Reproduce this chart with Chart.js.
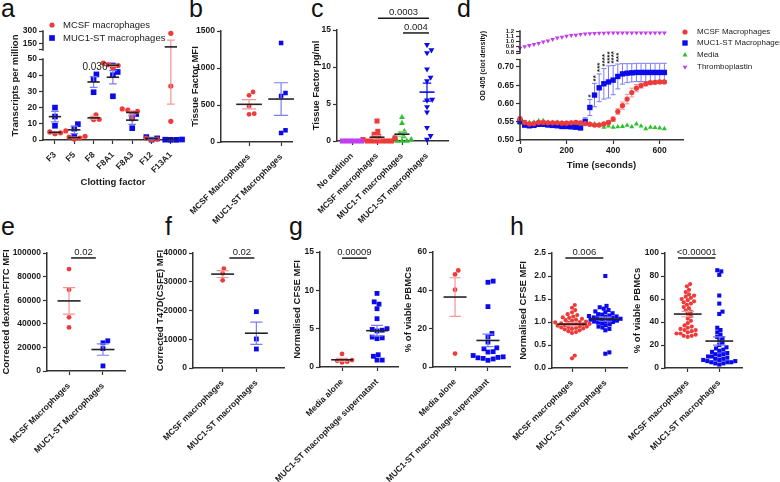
<!DOCTYPE html>
<html>
<head>
<meta charset="utf-8">
<script src="https://cdn.jsdelivr.net/npm/chart.js@4.4.1/dist/chart.umd.min.js"></script>
<style>
  html, body { margin: 0; padding: 0; background: #fff; }
  #wrap { position: relative; width: 780px; height: 482px; overflow: hidden; }
  #wrap canvas { position: absolute; }
  .lt { position: absolute; font: 25px 'Liberation Sans', Arial, sans-serif; line-height: 25px; color: #111; }
</style>
</head>
<body>
<div id="wrap">
  <div class="lt" style="left:1px;top:-4px">a</div>
  <div class="lt" style="left:189px;top:-4px">b</div>
  <div class="lt" style="left:311px;top:-4px">c</div>
  <div class="lt" style="left:457px;top:-4px">d</div>
  <div class="lt" style="left:1px;top:214px">e</div>
  <div class="lt" style="left:165px;top:214px">f</div>
  <div class="lt" style="left:289px;top:214px">g</div>
  <div class="lt" style="left:510px;top:214px">h</div>
</div>
<script>
// a: transcripts per million
const clotFactors = ['F3', 'F5', 'F8', 'F8A1', 'F8A3', 'F12', 'F13A1'];
const tpmMcsf = [[5.6, 5.0, 4.4, 3.9], [2.3, 1.8, 1.2, 0.6], [15.6, 12.8, 12.6], [47.5, 46.5, 46.0, 44.5], [19.2, 18.5, 17.7, 16.5, 13.0], [1.2, 0.5, 0.2], [272, 33.3, 11.5]];
const tpmMuc1 = [[20.0, 14.5, 8.8], [9.8, 7.0, 2.0], [40.5, 37.5, 29.5], [46.0, 42.0, 40.0, 27.0], [16.0, 13.5, 7.3], [1.8, 1.0, 0.2], [0.3, 0.2, 0.1, 0.1]];

// b: tissue factor MFI
const tfGroups = ['MCSF Macrophages', 'MUC1-ST Macrophages'];
const tfMfiMcsf = [676, 631, 482, 383, 374];
const tfMfiMuc1 = [1338, 662, 622, 158, 122];

// c: tissue factor pg/ml
const tfpgGroups = ['No addition', 'MCSF macrophages', 'MUC1-T macrophages', 'MUC1-ST macrophages'];
const tfpgNone = [0, 0, 0, 0, 0];
const tfpgMcsf = [2.7, 1.3, 0.9, 0.6, 0.4, 0.2, 0, 0, 0, 0, 0, 0];
const tfpgMuc1T = [3.2, 2.4, 1.3, 1.0, 0.6, 0.5, 0.2, 0, 0, 0];
const tfpgMuc1ST = [13.0, 12.3, 11.9, 9.7, 8.6, 8.1, 5.6, 5.5, 4.6, 3.9, 1.8, 0.7, 0.2];

// d: clotting time course
const timeSec = [0, 20, 40, 60, 80, 100, 120, 140, 160, 180, 200, 220, 240, 260, 280, 300, 320, 340, 360, 380, 400, 420, 440, 460, 480, 500, 520, 540, 560, 580, 600, 620];
const odMcsf = [0.558, 0.548, 0.544, 0.545, 0.548, 0.548, 0.547, 0.547, 0.547, 0.546, 0.546, 0.547, 0.548, 0.547, 0.545, 0.543, 0.541, 0.541, 0.544, 0.548, 0.557, 0.578, 0.594, 0.612, 0.630, 0.642, 0.649, 0.654, 0.657, 0.658, 0.659, 0.659];
const semMcsf = [0.006, 0.005, 0.004, 0.004, 0.004, 0.004, 0.004, 0.004, 0.004, 0.004, 0.004, 0.004, 0.004, 0.004, 0.004, 0.004, 0.004, 0.004, 0.004, 0.004, 0.006, 0.008, 0.010, 0.013, 0.012, 0.010, 0.007, 0.006, 0.004, 0.004, 0.004, 0.004];
const odMuc1 = [0.551, 0.541, 0.539, 0.540, 0.543, 0.543, 0.541, 0.540, 0.539, 0.537, 0.537, 0.536, 0.535, 0.533, 0.551, 0.589, 0.623, 0.643, 0.654, 0.659, 0.664, 0.674, 0.681, 0.683, 0.684, 0.685, 0.685, 0.685, 0.685, 0.685, 0.685, 0.685];
const semMuc1 = [0.006, 0.006, 0.005, 0.005, 0.004, 0.004, 0.004, 0.004, 0.004, 0.004, 0.004, 0.004, 0.004, 0.004, 0.010, 0.022, 0.032, 0.038, 0.042, 0.044, 0.040, 0.034, 0.028, 0.026, 0.025, 0.025, 0.025, 0.025, 0.025, 0.025, 0.025, 0.025];
const odMedia = [0.546, 0.547, 0.548, 0.549, 0.552, 0.553, 0.549, 0.548, 0.548, 0.547, 0.547, 0.547, 0.546, 0.546, 0.545, 0.545, 0.544, 0.543, 0.535, 0.538, 0.535, 0.536, 0.537, 0.540, 0.536, 0.544, 0.538, 0.531, 0.535, 0.534, 0.533, 0.531];
const odThrombo = [0.876, 0.903, 0.924, 0.945, 0.966, 0.993, 1.014, 1.041, 1.069, 1.083, 1.103, 1.117, 1.124, 1.138, 1.145, 1.152, 1.155, 1.159, 1.162, 1.164, 1.166, 1.166, 1.166, 1.166, 1.166, 1.166, 1.166, 1.166, 1.166, 1.166, 1.166, 1.166];
const starTimes = [300, 320, 340, 360, 380, 400, 420];
const starLabels = ['*', '**', '***', '****', '****', '****', '***'];

// e: phagocytosis
const phagoGroups = ['MCSF Macrophages', 'MUC1-ST Macrophages'];
const dextranMcsf = [86400, 68800, 45500, 36900];
const dextranMuc1 = [25600, 23900, 19000, 4300];

// f: tumour cell uptake
const killGroups = ['MCSF macrophages', 'MUC1-ST macrophages'];
const t47dMcsf = [34600, 32900, 30500];
const t47dMuc1 = [19600, 10100, 6600];

// g: supernatant on PBMCs
const supGroups = ['Media alone', 'MUC1-ST macrophage supernatant'];
const cfseMedia = [1.7, 0.9, 0.8, 0.7, 0.6];
const cfseSup = [9.6, 8.5, 8.2, 7.6, 6.3, 5.0, 4.9, 4.8, 4.7, 3.9, 3.8, 3.7, 1.6, 1.4, 0.9, 0.9];
const viableMedia = [50.4, 48.3, 40.3, 7.0];
const viableSup = [44.8, 44.2, 31.5, 17.5, 15.8, 13, 10, 9.5, 8, 7.8, 6, 5.3, 5, 4.8, 4.5, 4.2, 3.5];

// h: co-culture with PBMCs
const coGroups = ['MCSF macrophages', 'MUC1-ST macrophages'];
const cfseMcsf = [1.37, 1.31, 1.26, 1.21, 1.17, 1.15, 1.12, 1.1, 1.09, 1.07, 1.05, 1.04, 1.03, 1.01, 1.0, 0.99, 0.98, 0.97, 0.96, 0.96, 0.95, 0.94, 0.93, 0.92, 0.91, 0.9, 0.89, 0.88, 0.87, 0.86, 0.85, 0.84, 0.82, 0.8, 0.78, 0.76, 0.27, 0.21];
const cfseMuc1 = [2.0, 1.35, 1.32, 1.29, 1.26, 1.23, 1.21, 1.19, 1.17, 1.16, 1.14, 1.13, 1.12, 1.11, 1.1, 1.09, 1.08, 1.07, 1.06, 1.05, 1.04, 1.03, 1.02, 1.01, 1.0, 0.99, 0.97, 0.95, 0.93, 0.9, 0.88, 0.85, 0.82, 0.34, 0.31];
const viableMcsf = [73, 71, 68, 66, 64, 63, 62, 61, 60, 59, 58, 57, 56, 55, 53, 52, 50, 49, 47, 45, 43, 41, 39, 37, 36, 35, 34, 33, 33, 32, 31, 30, 30, 29, 28, 28, 27];
const viableMuc1 = [85, 84, 81, 63, 56, 49, 47, 35, 33, 31, 29, 27, 26, 24, 22, 20, 18, 17, 16, 15, 14, 13, 12, 12, 11, 10, 10, 9, 8, 8, 7, 7, 6, 6, 5, 5, 5, 4, 4, 3];

const RED = '#ef3a3a', RED_E = '#f59595';
const BLUE = '#0a0aea', BLUE_E = '#7c7cf5';
const GREEN = '#2cc02c', GREEN_E = '#88d888';
const PURPLE = '#c23cf0';
const INK = '#1a1a1a', AX = '#333333';
const FAM = "'Liberation Sans', Arial, sans-serif";

Chart.defaults.font.family = FAM;
Chart.defaults.color = INK;

// linear scale with a gap: lower part up to lo, upper part from hi
class BrokenScale extends Chart.LinearScale {
  getPixelForValue(v) {
    const k = this.options.brk;
    let d;
    if (v <= k.lo) d = (v - this.min) / (k.lo - this.min) * k.f1;
    else if (v < k.hi) d = k.f1 + (v - k.lo) / (k.hi - k.lo) * (k.f2 - k.f1);
    else d = k.f2 + (v - k.hi) / (this.max - k.hi) * (1 - k.f2);
    return this.getPixelForDecimal(d);
  }
}
BrokenScale.id = 'broken';
BrokenScale.defaults = {};
Chart.register(BrokenScale);

const wrap = document.getElementById('wrap');

function axisBase(extra) {
  return Object.assign({
    grid: {display: true, drawOnChartArea: false, drawTicks: true, tickLength: 4, tickWidth: 1.2, tickColor: AX},
    border: {display: true, color: AX, width: 1.5}
  }, extra);
}

function build(o) {
  const [bx, by, bw, bh] = o.box;
  const [l, t, r, b] = o.area;
  const cv = document.createElement('canvas');
  cv.width = bw; cv.height = bh;
  cv.style.cssText = `left:${bx}px;top:${by}px;width:${bw}px;height:${bh}px`;
  wrap.appendChild(cv);
  const titleFont = {size: 9.5, weight: 'bold'};
  const yTitleFont = {size: o.yTitleSize || 9.5, weight: 'bold'};
  const lh = titleFont.size * 1.2, ylh = yTitleFont.size * 1.2;
  const tickFont = {size: 8.5, weight: 'bold'};
  const x = axisBase({
    type: 'linear', min: o.xr[0], max: o.xr[1],
    afterBuildTicks: s => { s.ticks = o.xTicks.map(v => ({value: v})); },
    afterFit: s => { s.height = by + bh - b; s.paddingLeft = 0; s.paddingRight = 0; },
    ticks: {autoSkip: false, minRotation: o.xRot, maxRotation: o.xRot, padding: o.xRot ? 6 : 2, color: INK, font: tickFont, callback: o.xLabel},
    title: o.xTitle
      ? {display: true, text: o.xTitle, color: INK, font: titleFont, padding: {top: 0, bottom: by + bh - o.titleY - lh / 2}}
      : {display: false}
  });
  const y = axisBase(Object.assign({
    type: 'linear',
    afterBuildTicks: s => { s.ticks = o.yTicks.map(v => ({value: v})); },
    afterFit: s => { s.width = l - bx; s.paddingTop = 0; s.paddingBottom = 0; },
    ticks: {autoSkip: false, padding: 2, color: INK, font: o.yTickFont || tickFont, callback: o.yLabel},
    title: {display: true, text: o.yTitle, color: INK, font: yTitleFont, align: o.yTitleAlign || 'center',
      padding: {top: o.titleX - bx - ylh / 2, bottom: 0}}
  }, o.y));
  const plugins = (o.plugins || []).slice();
  if (o.broken) {
    y.border = {display: false};
    plugins.push(brokenAxisPlugin(o.broken));
  }
  return new Chart(cv, {
    type: 'scatter',
    data: {datasets: o.datasets},
    options: {
      responsive: false, animation: false, events: [],
      layout: {autoPadding: false, padding: {left: 0, top: t - by, right: bx + bw - r, bottom: 0}},
      plugins: {legend: {display: false}, tooltip: {enabled: false}},
      scales: {x, y}
    },
    plugins
  });
}

function brokenAxisPlugin(segs) {
  return {id: 'brokenAxis', afterDraw(chart) {
    const {ctx, chartArea, scales: {y}} = chart;
    ctx.save();
    ctx.strokeStyle = AX; ctx.lineWidth = 1.5;
    segs.forEach(([a, b]) => {
      ctx.beginPath();
      ctx.moveTo(chartArea.left, y.getPixelForValue(a) + 0.75);
      ctx.lineTo(chartArea.left, y.getPixelForValue(b) - 0.75);
      ctx.stroke();
    });
    ctx.restore();
  }};
}

function statsPlugin(series, meanHw, capHw) {
  return {id: 'stats', afterDatasetsDraw(chart) {
    const {ctx, scales: {x, y}} = chart;
    ctx.save();
    series.forEach(s => {
      s.groups.forEach((vals, ci) => {
        if (!vals || !vals.length) return;
        const n = vals.length;
        const m = vals.reduce((a, v) => a + v, 0) / n;
        const sd = Math.sqrt(vals.reduce((a, v) => a + (v - m) ** 2, 0) / (n - 1));
        const se = sd / Math.sqrt(n);
        const cx = x.getPixelForValue(ci);
        const hw = x.getPixelForValue(ci + meanHw) - cx;
        const cw = x.getPixelForValue(ci + capHw) - cx;
        const yt = y.getPixelForValue(m + se), yb = y.getPixelForValue(m - se), ym = y.getPixelForValue(m);
        ctx.strokeStyle = s.err; ctx.lineWidth = 1.2;
        ctx.beginPath();
        ctx.moveTo(cx, yt); ctx.lineTo(cx, yb);
        ctx.moveTo(cx - cw, yt); ctx.lineTo(cx + cw, yt);
        ctx.moveTo(cx - cw, yb); ctx.lineTo(cx + cw, yb);
        ctx.stroke();
        ctx.strokeStyle = s.mean || '#222'; ctx.lineWidth = 1.6;
        ctx.beginPath(); ctx.moveTo(cx - hw, ym); ctx.lineTo(cx + hw, ym); ctx.stroke();
      });
    });
    ctx.restore();
  }};
}

function sigPlugin(items) {
  return {id: 'sig', afterDraw(chart) {
    const {ctx, scales: {x, y}} = chart;
    ctx.save();
    items.forEach(it => {
      const py = y.getPixelForValue(it.y);
      const x1 = x.getPixelForValue(it.x1), x2 = x.getPixelForValue(it.x2);
      ctx.fillStyle = INK;
      ctx.font = `${it.size || 9.5}px ${FAM}`;
      ctx.textAlign = 'center';
      if (it.bar === false) {
        ctx.textBaseline = 'middle';
        ctx.fillText(it.text, x1, py);
        return;
      }
      ctx.strokeStyle = INK; ctx.lineWidth = 1.5;
      ctx.beginPath(); ctx.moveTo(x1, py); ctx.lineTo(x2, py); ctx.stroke();
      ctx.textBaseline = 'alphabetic';
      ctx.fillText(it.text, (x1 + x2) / 2, py - 3);
    });
    ctx.restore();
  }};
}

function legendPlugin(items, bx, by, size) {
  return {id: 'legendItems', afterDraw(chart) {
    const ctx = chart.ctx;
    ctx.save();
    items.forEach(it => {
      const ds = chart.data.datasets[it.ds];
      ctx.fillStyle = ds.backgroundColor;
      Chart.helpers.drawPoint(ctx, {pointStyle: ds.pointStyle, rotation: ds.rotation || 0, radius: ds.pointRadius, borderWidth: 0}, it.mx - bx, it.y - by);
      ctx.fillStyle = INK;
      ctx.font = `${size}px ${FAM}`;
      ctx.textAlign = 'left'; ctx.textBaseline = 'middle';
      ctx.fillText(it.text, it.tx - bx, it.y - by);
    });
    ctx.restore();
  }};
}

// spread points of one category sideways so markers don't sit on each other
function swarm(chart, dsIndex, groups, dia) {
  const xs = chart.scales.x, ys = chart.scales.y;
  const pxPerX = xs.getPixelForValue(1) - xs.getPixelForValue(0);
  const data = [];
  groups.forEach((vals, ci) => {
    if (!vals) return;
    const pts = vals.map(v => ({v, py: ys.getPixelForValue(v)})).sort((a, b) => b.py - a.py);
    const placed = [];
    pts.forEach(p => {
      let best = 0;
      for (let k = 0; k < 400; k++) {
        const off = (k % 2 ? 1 : -1) * Math.ceil(k / 2) * 0.4;
        if (placed.every(q => Math.hypot(q.off - off, q.py - p.py) >= dia)) { best = off; break; }
      }
      placed.push({off: best, py: p.py});
      data.push({x: ci + best / pxPerX, y: p.v});
    });
  });
  chart.data.datasets[dsIndex].data = data;
}

function dotPlot(o) {
  o.xTicks = o.cats.map((c, i) => i);
  o.xLabel = v => o.cats[v];
  o.xRot = 45;
  o.datasets = o.series.map(s => ({
    pointStyle: s.style, rotation: s.rot || 0, pointRadius: s.r,
    backgroundColor: s.color, borderWidth: 0, clip: false,
    data: s.groups.flatMap((g, i) => (g || []).map(v => ({x: i, y: v})))
  }));
  o.plugins = [statsPlugin(o.series, o.meanHw, o.capHw)].concat(o.plugins || []);
  const ch = build(o);
  o.series.forEach((s, i) => swarm(ch, i, s.groups, s.dia));
  ch.update('none');
  return ch;
}

const plain = v => String(v);

// a
dotPlot({
  box: [0, 8, 195, 187], area: [43, 31, 183, 140],
  cats: clotFactors, xr: [-0.62, 6.63],
  y: {type: 'broken', min: 0, max: 300, brk: {lo: 50, hi: 68, f1: 0.743, f2: 0.826}},
  yTicks: [0, 10, 20, 30, 40, 50, 68, 150, 300], yLabel: v => v === 68 ? '' : String(v),
  broken: [[0, 50], [68, 300]],
  yTitle: 'Transcripts per million', titleX: 15,
  xTitle: 'Clotting factor', titleY: 182,
  series: [
    {groups: tpmMcsf, style: 'circle', r: 2.6, color: RED, err: RED_E, dia: 5.4},
    {groups: tpmMuc1, style: 'rect', r: 4.0, color: BLUE, err: BLUE_E, dia: 5.6}
  ],
  meanHw: 0.32, capHw: 0.2,
  plugins: [
    sigPlugin([{x1: 2.07, x2: 2.07, y: 45, text: '0.036', size: 10, bar: false}]),
    legendPlugin([
      {ds: 0, mx: 52, tx: 63, y: 25, text: 'MCSF macrophages'},
      {ds: 1, mx: 52, tx: 63, y: 38, text: 'MUC1-ST macrophages'}
    ], 0, 8, 9.5)
  ]
});

// b
dotPlot({
  box: [160, 8, 140, 232], area: [221, 31, 292, 142],
  cats: tfGroups, xr: [-0.875, 1.34],
  y: {min: 0, max: 1500}, yTicks: [0, 500, 1000, 1500], yLabel: plain,
  yTitle: 'Tissue Factor MFI', titleX: 195,
  series: [
    {groups: [tfMfiMcsf, null], style: 'circle', r: 2.4, color: RED, err: RED_E, dia: 5},
    {groups: [null, tfMfiMuc1], style: 'rect', r: 3.2, color: BLUE, err: BLUE_E, dia: 5}
  ],
  meanHw: 0.4, capHw: 0.22
});

// c
dotPlot({
  box: [250, 0, 210, 240], area: [337, 30, 448, 141],
  cats: tfpgGroups, xr: [-0.6, 3.84],
  y: {min: 0, max: 15}, yTicks: [0, 5, 10, 15], yLabel: plain,
  yTitle: 'Tissue Factor pg/ml', titleX: 316,
  series: [
    {groups: [tfpgNone], style: 'rect', r: 3.6, color: PURPLE, err: PURPLE, mean: PURPLE, dia: 4.6},
    {groups: [null, tfpgMcsf], style: 'rect', r: 3.6, color: RED, err: RED_E, dia: 4.6},
    {groups: [null, null, tfpgMuc1T], style: 'triangle', r: 3.4, color: GREEN, err: GREEN_E, dia: 4.6},
    {groups: [null, null, null, tfpgMuc1ST], style: 'triangle', rot: 180, r: 3.4, color: BLUE, err: BLUE, mean: BLUE, dia: 5}
  ],
  meanHw: 0.3, capHw: 0.17,
  plugins: [sigPlugin([
    {x1: 1.04, x2: 3.08, y: 16.6, text: '0.0003'},
    {x1: 2.04, x2: 3.08, y: 14.6, text: '0.004'}
  ])]
});

// d
(function () {
  const toPts = arr => timeSec.map((t, i) => ({x: t, y: arr[i]}));
  const ds = [
    {data: toPts(odMcsf), pointStyle: 'circle', pointRadius: 2.6, backgroundColor: RED, borderWidth: 0, clip: false},
    {data: toPts(odMuc1), pointStyle: 'rect', pointRadius: 3.8, backgroundColor: BLUE, borderWidth: 0, clip: false},
    {data: toPts(odMedia), pointStyle: 'triangle', pointRadius: 2.9, backgroundColor: GREEN, borderWidth: 0, clip: false},
    {data: toPts(odThrombo), pointStyle: 'triangle', rotation: 180, pointRadius: 2.7, backgroundColor: PURPLE, borderWidth: 0, clip: false}
  ];
  const errPlugin = {id: 'errBars', beforeDatasetsDraw(chart) {
    const {ctx, scales: {x, y}} = chart;
    ctx.save(); ctx.lineWidth = 1;
    [[odMcsf, semMcsf, RED_E], [odMuc1, semMuc1, BLUE_E]].forEach(([mean, sem, col]) => {
      ctx.strokeStyle = col;
      sem.forEach((s, i) => {
        const px = x.getPixelForValue(timeSec[i]);
        const y1 = y.getPixelForValue(mean[i] + s), y2 = y.getPixelForValue(mean[i] - s);
        ctx.beginPath();
        ctx.moveTo(px, y1); ctx.lineTo(px, y2);
        ctx.moveTo(px - 2.5, y1); ctx.lineTo(px + 2.5, y1);
        ctx.moveTo(px - 2.5, y2); ctx.lineTo(px + 2.5, y2);
        ctx.stroke();
      });
    });
    ctx.restore();
  }};
  const starPlugin = {id: 'stars', afterDraw(chart) {
    const {ctx, scales: {x, y}} = chart;
    ctx.save();
    ctx.fillStyle = INK; ctx.font = `bold 8px ${FAM}`;
    ctx.textAlign = 'left'; ctx.textBaseline = 'middle';
    starTimes.forEach((t, k) => {
      const i = timeSec.indexOf(t);
      const px = x.getPixelForValue(t), py = y.getPixelForValue(odMuc1[i] + semMuc1[i]);
      ctx.save(); ctx.translate(px + 1, py - 2); ctx.rotate(-Math.PI / 2);
      ctx.fillText(starLabels[k], 0, 0);
      ctx.restore();
    });
    ctx.restore();
  }};
  build({
    box: [460, 10, 320, 180], area: [520, 31, 683, 140],
    xr: [0, 700], xTicks: [0, 200, 400, 600], xRot: 0, xLabel: plain,
    y: {type: 'broken', min: 0.5, max: 1.2, brk: {lo: 0.72, hi: 0.78, f1: 0.737, f2: 0.798}},
    yTicks: [0.5, 0.55, 0.6, 0.65, 0.7, 0.72, 0.78, 0.8, 0.9, 1.0, 1.1, 1.2],
    yLabel: v => (v === 0.72 || v === 0.78) ? '' : (v < 0.75 ? v.toFixed(2) : v.toFixed(1)),
    yTickFont: c => ({size: c.tick && c.tick.value > 0.75 ? 6 : 8.5, weight: 'bold'}),
    broken: [[0.5, 0.72], [0.78, 1.2]],
    yTitle: 'OD 405 (clot density)', titleX: 483, yTitleSize: 7, yTitleAlign: 'end',
    xTitle: 'Time (seconds)', titleY: 165,
    datasets: ds,
    plugins: [errPlugin, starPlugin, legendPlugin([
      {ds: 0, mx: 685, tx: 697, y: 32, text: 'MCSF Macrophages'},
      {ds: 1, mx: 685, tx: 697, y: 43, text: 'MUC1-ST Macrophages'},
      {ds: 2, mx: 685, tx: 697, y: 55, text: 'Media'},
      {ds: 3, mx: 685, tx: 697, y: 67, text: 'Thromboplastin'}
    ], 460, 10, 8)]
  });
})();

// e
dotPlot({
  box: [0, 238, 140, 244], area: [47, 253, 125, 371],
  cats: phagoGroups, xr: [-0.65, 1.65],
  y: {min: 0, max: 100000}, yTicks: [0, 20000, 40000, 60000, 80000, 100000], yLabel: plain,
  yTitle: 'Corrected dextran-FITC MFI', titleX: 6,
  series: [
    {groups: [dextranMcsf, null], style: 'circle', r: 2.4, color: RED, err: RED_E, dia: 5},
    {groups: [null, dextranMuc1], style: 'rect', r: 3.4, color: BLUE, err: BLUE_E, dia: 5}
  ],
  meanHw: 0.34, capHw: 0.18,
  plugins: [sigPlugin([{x1: 0.06, x2: 0.79, y: 95800, text: '0.02'}])]
});

// f
dotPlot({
  box: [120, 238, 175, 244], area: [193, 253, 284, 368],
  cats: killGroups, xr: [-0.88, 1.82],
  y: {min: 0, max: 40000}, yTicks: [0, 10000, 20000, 30000, 40000], yLabel: plain,
  yTitle: 'Corrected T47D(CSFE) MFI', titleX: 160,
  series: [
    {groups: [t47dMcsf, null], style: 'circle', r: 2.4, color: RED, err: RED_E, dia: 5},
    {groups: [null, t47dMuc1], style: 'rect', r: 3.4, color: BLUE, err: BLUE_E, dia: 5}
  ],
  meanHw: 0.34, capHw: 0.18,
  plugins: [sigPlugin([{x1: 0.2, x2: 0.94, y: 38260, text: '0.02'}])]
});

// g left
dotPlot({
  box: [240, 238, 165, 244], area: [320, 252, 398, 367],
  cats: supGroups, xr: [-0.63, 1.6],
  y: {min: 0, max: 15}, yTicks: [0, 5, 10, 15], yLabel: plain,
  yTitle: 'Normalised CFSE MFI', titleX: 297,
  series: [
    {groups: [cfseMedia, null], style: 'circle', r: 2.4, color: RED, err: RED_E, dia: 5},
    {groups: [null, cfseSup], style: 'rect', r: 3.4, color: BLUE, err: BLUE_E, dia: 5}
  ],
  meanHw: 0.31, capHw: 0.17,
  plugins: [sigPlugin([{x1: 0, x2: 0.71, y: 14.2, text: '0.00009'}])]
});

// g right
dotPlot({
  box: [350, 238, 170, 244], area: [433, 252, 510, 367],
  cats: supGroups, xr: [-0.67, 1.67],
  y: {min: 0, max: 60}, yTicks: [0, 20, 40, 60], yLabel: plain,
  yTitle: '% of viable PBMCs', titleX: 408,
  series: [
    {groups: [viableMedia, null], style: 'circle', r: 2.4, color: RED, err: RED_E, dia: 5},
    {groups: [null, viableSup], style: 'rect', r: 3.4, color: BLUE, err: BLUE_E, dia: 5}
  ],
  meanHw: 0.35, capHw: 0.17
});

// h left
dotPlot({
  box: [480, 238, 155, 244], area: [552, 253, 627, 368],
  cats: coGroups, xr: [-0.6, 1.65],
  y: {min: 0, max: 2.5}, yTicks: [0, 0.5, 1, 1.5, 2, 2.5], yLabel: v => v.toFixed(1),
  yTitle: 'Normalised CFSE MFI', titleX: 523,
  series: [
    {groups: [cfseMcsf, null], style: 'circle', r: 2.1, color: RED, err: RED_E, dia: 3.9},
    {groups: [null, cfseMuc1], style: 'rect', r: 2.9, color: BLUE, err: BLUE_E, dia: 3.9}
  ],
  meanHw: 0.44, capHw: 0.2,
  plugins: [sigPlugin([{x1: -0.2, x2: 0.94, y: 2.39, text: '0.006'}])]
});

// h right
dotPlot({
  box: [580, 238, 190, 244], area: [665, 253, 742, 368],
  cats: coGroups, xr: [-0.72, 1.72],
  y: {min: 0, max: 100}, yTicks: [0, 20, 40, 60, 80, 100], yLabel: plain,
  yTitle: '% of viable PBMCs', titleX: 637,
  series: [
    {groups: [viableMcsf, null], style: 'circle', r: 2.1, color: RED, err: RED_E, dia: 3.9},
    {groups: [null, viableMuc1], style: 'rect', r: 2.9, color: BLUE, err: BLUE_E, dia: 3.9}
  ],
  meanHw: 0.44, capHw: 0.2,
  plugins: [sigPlugin([{x1: -0.31, x2: 0.875, y: 95.7, text: '<0.00001'}])]
});
</script>
</body>
</html>
